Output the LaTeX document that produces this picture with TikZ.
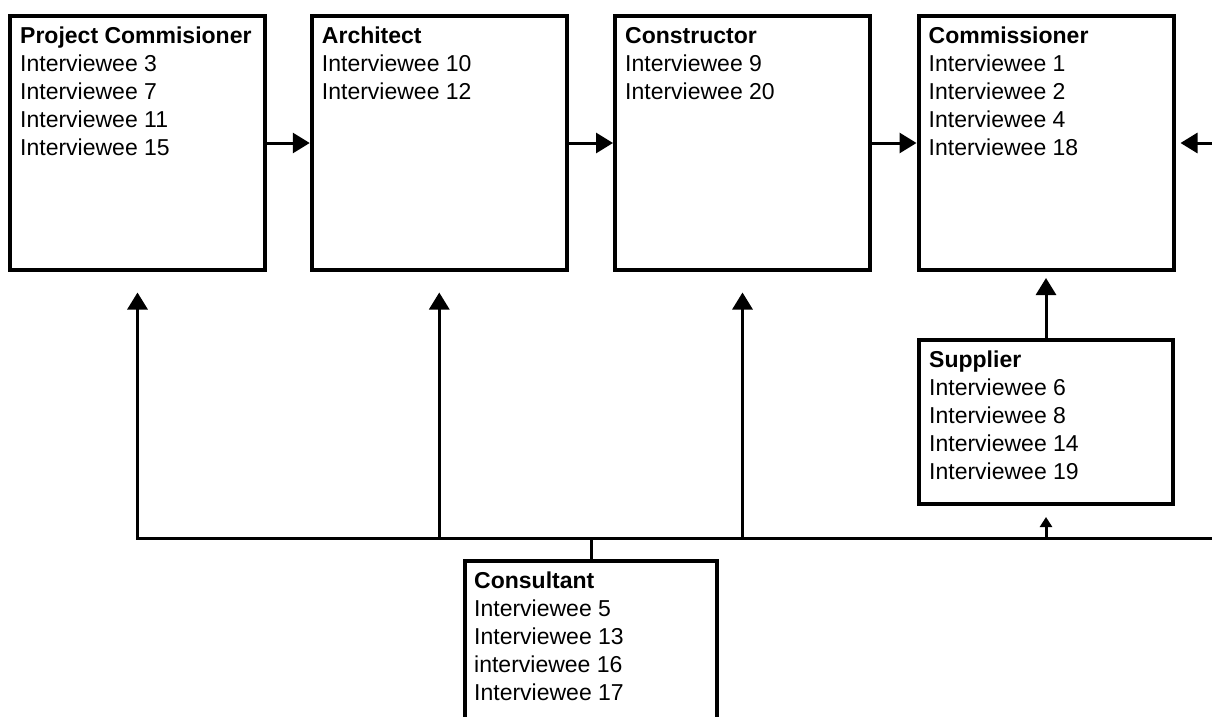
\documentclass[tikz,border=0pt]{standalone}
\usepackage{fontspec}
\setmainfont{Liberation Sans}
\usetikzlibrary{arrows.meta}
\begin{document}
\begin{tikzpicture}[x=1pt,y=-1pt,
  box/.style={draw, line width=4pt, rectangle, inner sep=0pt},
  topbox/.style={box, minimum width=255pt, minimum height=254pt},
  lbl/.style={anchor=north west, inner sep=0pt, align=left,
    font=\fontsize{23}{28}\selectfont},
  link/.style={line width=3pt},
  arr/.style={link, -{Triangle[length=17pt,width=20pt]}},
  smallarr/.style={link, -{Triangle[length=10pt,width=12pt]}}]
\useasboundingbox (0,0) rectangle (1212,717);
\clip (0,0) rectangle (1212,717);

% top row of roles
\node[topbox] (pc) at (137.5,143) {};
\node[topbox] (ar) at (439.25,143) {};
\node[topbox] (co) at (742.5,143) {};
\node[topbox] (cm) at (1046,143) {};
% supplier and consultant
\node[box, minimum width=254pt, minimum height=163.5pt] (sp) at (1046,421.75) {};
\node[box, minimum width=252pt, minimum height=255pt] (ct) at (591,688.5) {};

% box contents
\node[lbl] (pct) at ([shift={(12pt,-9.7pt)}]pc.north west)
  {\strut\textbf{Project Commisioner}\\Interviewee 3\\Interviewee 7\\Interviewee 11\\Interviewee 15};
\node[lbl] (art) at ([shift={(12pt,-9.7pt)}]ar.north west)
  {\strut\textbf{Architect}\\Interviewee 10\\Interviewee 12};
\node[lbl] (cot) at ([shift={(12pt,-9.7pt)}]co.north west)
  {\strut\textbf{Constructor}\\Interviewee 9\\Interviewee 20};
\node[lbl] (cmt) at ([shift={(12pt,-9.7pt)}]cm.north west)
  {\strut\textbf{Commissioner}\\Interviewee 1\\Interviewee 2\\Interviewee 4\\Interviewee 18};
\node[lbl] (spt) at ([shift={(12pt,-9.7pt)}]sp.north west)
  {\strut\textbf{Supplier}\\Interviewee 6\\Interviewee 8\\Interviewee 14\\Interviewee 19};
\node[lbl] (ctt) at ([shift={(11pt,-9.7pt)}]ct.north west)
  {\strut\textbf{Consultant}\\Interviewee 5\\Interviewee 13\\interviewee 16\\Interviewee 17};

% horizontal flow along the top row
\draw[arr] (pc.east) -- (ar.west);
\draw[arr] (ar.east) -- (co.west);
\draw[arr] (co.east) -- (cm.west);
\coordinate (edge) at (1212,143);
\draw[arr, shorten >=5pt] (edge) -- (cm.east);
\draw[arr, shorten >=6pt] (sp.north) -- (cm.south);

% consultant bus
\coordinate (busR) at (1212,538);
\draw[arr, shorten >=20.5pt] (busR) -- (pc.south |- busR) -- (pc.south);
\draw[arr, shorten >=20.5pt] (ar.south |- busR) -- (ar.south);
\draw[arr, shorten >=20.5pt] (co.south |- busR) -- (co.south);
\draw[smallarr, shorten >=11.5pt] (sp.south |- busR) -- (sp.south);
\draw[link] (ct.north) -- (ct.north |- busR);
\end{tikzpicture}
\end{document}
